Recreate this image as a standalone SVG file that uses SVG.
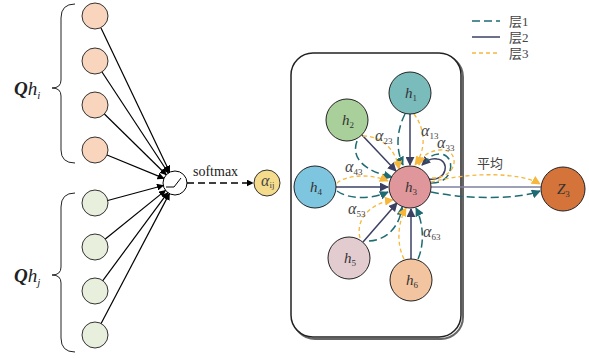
<svg xmlns="http://www.w3.org/2000/svg" width="589" height="359" viewBox="0 0 589 359">
<defs>
<marker id="ab" viewBox="0 0 10 10" refX="9" refY="5" markerWidth="7" markerHeight="7" orient="auto" markerUnits="userSpaceOnUse"><path d="M0,0 L10,5 L0,10 z" fill="#000"/></marker>
<marker id="an" viewBox="0 0 10 10" refX="9" refY="5" markerWidth="9" markerHeight="9" orient="auto" markerUnits="userSpaceOnUse"><path d="M0,0 L10,5 L0,10 z" fill="#3C4063"/></marker>
<marker id="at" viewBox="0 0 10 10" refX="9" refY="5" markerWidth="9" markerHeight="9" orient="auto" markerUnits="userSpaceOnUse"><path d="M0,0 L10,5 L0,10 z" fill="#1E6B73"/></marker>
<marker id="ay" viewBox="0 0 10 10" refX="9" refY="5" markerWidth="9" markerHeight="9" orient="auto" markerUnits="userSpaceOnUse"><path d="M0,0 L10,5 L0,10 z" fill="#F6B73C"/></marker>
</defs>
<style>
.in{stroke:#333;stroke-width:1}
.or{fill:#F8D5BC}
.gr{fill:#E8EFDD}
.blk{stroke:#000;stroke-width:1.2;fill:none}
.nv{stroke:#3C4063;stroke-width:1.5;fill:none}
.tl{stroke:#1E6B73;stroke-width:1.5;fill:none;stroke-dasharray:8 4}
.yl{stroke:#F6B73C;stroke-width:1.3;fill:none;stroke-dasharray:4 3}
.lab{font-family:"Liberation Serif",serif;font-style:italic;fill:#444;font-size:16px}
.sub{font-size:9px;font-style:normal}
.hl{font-family:"Liberation Serif",serif;font-style:italic;fill:#333;font-size:15px}
.cjk{font-family:"Liberation Serif","Noto Sans CJK SC",serif;fill:#444;font-size:13px}
</style>
<rect width="589" height="359" fill="#fff"/>
<g id="braces" fill="none" stroke="#222" stroke-width="1">
<path d="M75,4 Q61,4 61,18 L61,80 Q61,88 52,88 Q61,88 61,96 L61,150 Q61,163 75,163"/>
<path d="M75,193 Q61,193 61,207 L61,267 Q61,275 52,275 Q61,275 61,283 L61,338 Q61,352 75,352"/>
</g>
<g id="label-Qhi"><text x="14" y="95" font-family="Liberation Serif,serif" font-size="19" font-style="italic" fill="#222"><tspan font-weight="bold">Q</tspan>h<tspan font-size="11" dy="4">i</tspan></text></g>
<g id="label-Qhj"><text x="14" y="282" font-family="Liberation Serif,serif" font-size="19" font-style="italic" fill="#222"><tspan font-weight="bold">Q</tspan>h<tspan font-size="11" dy="4">j</tspan></text></g>
<g id="qi1"><circle cx="95" cy="16" r="13" class="or in"/></g>
<g id="qi2"><circle cx="95" cy="61" r="13" class="or in"/></g>
<g id="qi3"><circle cx="95" cy="105" r="13" class="or in"/></g>
<g id="qi4"><circle cx="95" cy="150" r="13" class="or in"/></g>
<g id="qj1"><circle cx="95" cy="203" r="13" class="gr in"/></g>
<g id="qj2"><circle cx="95" cy="247" r="13" class="gr in"/></g>
<g id="qj3"><circle cx="95" cy="291" r="13" class="gr in"/></g>
<g id="qj4"><circle cx="95" cy="335" r="13" class="gr in"/></g>
<g id="softmax-node">
<circle cx="175" cy="183" r="12" fill="#fff" stroke="#000" stroke-width="1"/>
<path d="M166,187 L174,187 L181,178" fill="none" stroke="#000" stroke-width="1"/>
</g>
<g id="alpha-ij"><circle cx="267" cy="183" r="13" fill="#F5DC8C" stroke="#333" stroke-width="1"/>
<text x="261" y="186" class="lab" font-size="12">α<tspan class="sub" font-size="6" dy="2">ij</tspan></text></g>
<g id="box">
<rect x="293" y="55" width="170" height="284" rx="22" fill="none" stroke="#666" stroke-width="2"/>
<rect x="291" y="53" width="170" height="284" rx="22" fill="#fff" stroke="#222" stroke-width="1.5"/>
</g>
<g id="legend">
<line x1="472" y1="21" x2="500" y2="21" class="tl"/>
<text x="509" y="26" class="cjk">层1</text>
<line x1="472" y1="37" x2="500" y2="37" class="nv"/>
<text x="509" y="42" class="cjk">层2</text>
<line x1="472" y1="53" x2="500" y2="53" class="yl"/>
<text x="509" y="58" class="cjk">层3</text>
</g>
<g id="connectors">
<line x1="101" y1="28" x2="169.6" y2="172" class="blk" marker-end="url(#ab)"/>
<line x1="102" y1="72" x2="168.4" y2="173" class="blk" marker-end="url(#ab)"/>
<line x1="104.4" y1="114" x2="166.3" y2="174.7" class="blk" marker-end="url(#ab)"/>
<line x1="107" y1="155" x2="163.9" y2="178.4" class="blk" marker-end="url(#ab)"/>
<line x1="107.7" y1="200.5" x2="163.3" y2="185.5" class="blk" marker-end="url(#ab)"/>
<line x1="105.3" y1="239" x2="165.5" y2="190.4" class="blk" marker-end="url(#ab)"/>
<line x1="102.8" y1="280.6" x2="167.8" y2="192.6" class="blk" marker-end="url(#ab)"/>
<line x1="101.1" y1="323.5" x2="169.4" y2="193.6" class="blk" marker-end="url(#ab)"/>
<line x1="187" y1="183" x2="253" y2="183" stroke="#000" stroke-width="1.3" stroke-dasharray="7 4" marker-end="url(#ab)"/>
<!-- layer 2 solid -->
<line x1="410" y1="114" x2="410" y2="165" class="nv" marker-end="url(#an)"/>
<line x1="362" y1="135" x2="396" y2="171" class="nv" marker-end="url(#an)"/>
<line x1="336" y1="187" x2="388" y2="187" class="nv" marker-end="url(#an)"/>
<line x1="363" y1="242" x2="397" y2="203" class="nv" marker-end="url(#an)"/>
<line x1="411" y1="259" x2="411" y2="209" class="nv" marker-end="url(#an)"/>
<path d="M428,179 C448,182 450,160 437,159 C431,158 426,161 422,165" class="nv" marker-end="url(#an)"/>
<line x1="431" y1="187" x2="541" y2="187" stroke="#7E80A0" stroke-width="1.5"/>
<!-- layer 1 teal -->
<path d="M405,114 C396,132 396,150 403,165" class="tl" marker-end="url(#at)"/>
<path d="M357,141 C350,160 368,172 392,177" class="tl" marker-end="url(#at)"/>
<path d="M337,191 C350,200 372,199 388,192" class="tl" marker-end="url(#at)"/>
<path d="M369,241 C388,240 400,225 402,207" class="tl" marker-end="url(#at)"/>
<path d="M418,259 C425,243 423,222 416,208" class="tl" marker-end="url(#at)"/>
<path d="M431,183 C455,184 456,154 440,154 C432,154 428,158 426,162" class="tl"/>
<path d="M431,192 C470,200 520,199 540,191" class="tl" marker-end="url(#at)"/>
<!-- layer 3 yellow -->
<path d="M414,114 C426,130 426,150 415,165" class="yl" marker-end="url(#ay)"/>
<path d="M363,136 C382,136 396,150 399,169" class="yl" marker-end="url(#ay)"/>
<path d="M337,183 C348,174 372,174 388,181" class="yl" marker-end="url(#ay)"/>
<path d="M360,238 C355,218 372,203 393,200" class="yl" marker-end="url(#ay)"/>
<path d="M404,259 C396,243 398,222 406,208" class="yl" marker-end="url(#ay)"/>
<path d="M432,178 C460,178 460,148 440,150 C428,151 421,157 419,165" class="yl" marker-end="url(#ay)"/>
<path d="M431,182 C470,172 520,172 540,184" class="yl" marker-end="url(#ay)"/>
</g>
<g id="h1"><circle cx="410" cy="93" r="21" fill="#7ABBBB" stroke="#222" stroke-width="1"/><text x="405" y="98" class="hl">h<tspan class="sub" dy="3">1</tspan></text></g>
<g id="h2"><circle cx="347" cy="120" r="21" fill="#A9D09A" stroke="#222" stroke-width="1"/><text x="342" y="125" class="hl">h<tspan class="sub" dy="3">2</tspan></text></g>
<g id="h4"><circle cx="315" cy="187" r="21" fill="#7EC6E0" stroke="#222" stroke-width="1"/><text x="310" y="192" class="hl">h<tspan class="sub" dy="3">4</tspan></text></g>
<g id="h3"><circle cx="410" cy="187" r="21" fill="#E0979B" stroke="#222" stroke-width="1"/><text x="405" y="192" class="hl">h<tspan class="sub" dy="3">3</tspan></text></g>
<g id="h5"><circle cx="349" cy="258" r="21" fill="#E3CCD0" stroke="#222" stroke-width="1"/><text x="344" y="263" class="hl">h<tspan class="sub" dy="3">5</tspan></text></g>
<g id="h6"><circle cx="411" cy="280" r="21" fill="#F2C4A0" stroke="#222" stroke-width="1"/><text x="406" y="285" class="hl">h<tspan class="sub" dy="3">6</tspan></text></g>
<g id="z3"><circle cx="563" cy="189" r="22" fill="#D4733A" stroke="#222" stroke-width="1"/><text x="557" y="194" class="hl">Z<tspan class="sub" dy="3">3</tspan></text></g>
<g id="labels">
<text x="193" y="176" font-family="Liberation Serif,serif" font-size="14" fill="#222">softmax</text>
<text x="421" y="136" class="lab">α<tspan class="sub" dy="3">13</tspan></text>
<text x="375" y="141" class="lab">α<tspan class="sub" dy="3">23</tspan></text>
<text x="437" y="148" class="lab">α<tspan class="sub" dy="3">33</tspan></text>
<text x="345" y="172" class="lab">α<tspan class="sub" dy="3">43</tspan></text>
<text x="348" y="214" class="lab">α<tspan class="sub" dy="3">53</tspan></text>
<text x="423" y="237" class="lab">α<tspan class="sub" dy="3">63</tspan></text>
<text x="477" y="168" class="cjk">平均</text>
</g>
</svg>
